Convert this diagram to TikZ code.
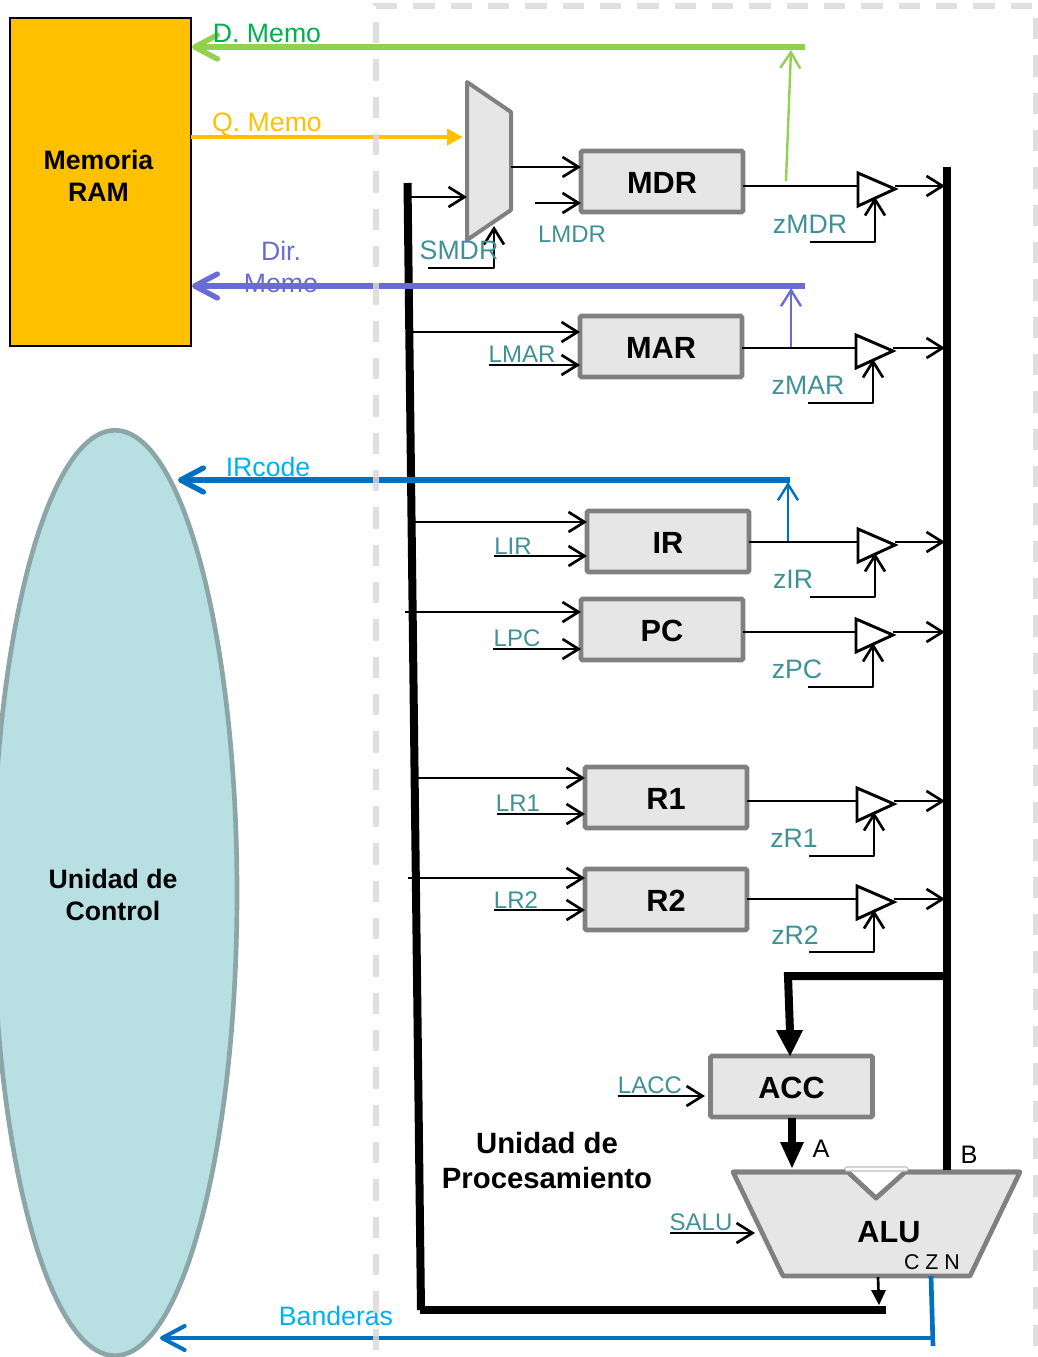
\documentclass[tikz,border=0pt]{standalone}
\usepackage{fontspec}
\setmainfont{Liberation Sans}
\usetikzlibrary{arrows.meta,shapes.geometric}
\definecolor{teal1}{HTML}{3F9198}
\definecolor{frameg}{HTML}{D9D9D9}
\definecolor{regg}{HTML}{808080}
\definecolor{regf}{HTML}{E6E6E6}
\definecolor{grn}{HTML}{92D050}
\definecolor{grnt}{HTML}{00B050}
\definecolor{amber}{HTML}{FFC000}
\definecolor{viol}{HTML}{6B6BD6}
\definecolor{blu}{HTML}{0070C0}
\definecolor{sky}{HTML}{00B0F0}
\definecolor{cuf}{HTML}{B8E0E3}
\definecolor{cud}{HTML}{8CA6A8}
\tikzset{
  x=0.75pt,y=-0.75pt,
  fs/.style={font=\fontsize{#1}{#1}\selectfont},
  reg/.style={draw=regg,fill=regf,line width=3.5pt,rounded corners=1pt,minimum width=121.5pt,minimum height=45.75pt,inner sep=0pt,outer sep=0pt,font=\fontsize{23}{27}\selectfont\bfseries},
  lab/.style={font=\fontsize{20}{24}\selectfont,text=teal1,inner sep=0pt},
  labs/.style={font=\fontsize{18}{22}\selectfont,text=teal1,inner sep=0pt},
  sig/.style={draw=black,line width=2pt,-{Straight Barb[length=12pt,width=15pt,line width=2pt]}},
  sigplain/.style={draw=black,line width=2pt},
  buf/.style={draw=black,fill=white,line width=2.2pt,line join=miter},
  bus/.style={draw=black,line width=6pt},
  thinup/.style={line width=1.8pt,-{Straight Barb[length=12pt,width=15pt,line width=1.8pt]}},
  bigback/.style={line width=4.5pt,-{Straight Barb[length=17pt,width=18pt,line width=4pt,round]}},
  bold/.style={font=\fontsize{20}{24}\selectfont\bfseries,align=center,inner sep=0pt},
}
\begin{document}
\begin{tikzpicture}
\clip (0,0) rectangle (1038,1357);
% memory and control
\node[draw=black,fill=amber,line width=1.5pt,minimum width=135.75pt,minimum height=246pt,inner sep=0pt,outer sep=0pt,bold] (ram) at (100.5,182) {};
\node[bold] (ramt) at (98.5,176) {Memoria\\RAM};
\node[ellipse,draw=cud,fill=cuf,line width=3.5pt,minimum width=183pt,minimum height=694pt,inner sep=0pt,outer sep=0pt] (cu) at (115,893) {};
\node[bold] (cut) at (113,895) {Unidad de\\Control};
% registers
\foreach \n/\t/\cx/\cy in {mdr/MDR/662/181.5,mar/MAR/661/346.5,ir/IR/668/541.5,pc/PC/662/629.5,ra/R1/666/797.5,rb/R2/666/899.5,acc/ACC/791.5/1086.5}
  \node[reg] (\n) at (\cx,\cy) {\raisebox{-9pt}[0pt][0pt]{\t}};
% mux and ALU
\coordinate (m1) at (467,82); \coordinate (m2) at (511,112); \coordinate (m3) at (511,210); \coordinate (m4) at (467,240);
\draw[draw=regg,fill=regf,line width=3pt,line join=round] (m1)--(m2)--(m3)--(m4)--cycle;
\coordinate (a1) at (733,1172); \coordinate (a2) at (1020,1172); \coordinate (a3) at (970,1276); \coordinate (a4) at (783,1276);
\coordinate (n1) at (848,1172); \coordinate (n2) at (876,1198); \coordinate (n3) at (905,1172);
\draw[draw=regg,fill=regf,line width=3.5pt,line join=round] (a1)--(n1)--(n2)--(n3)--(a2)--(a3)--(a4)--cycle;
\fill[white] (n1)--(n2)--(n3)--cycle;
\draw[draw=regg,line width=3.5pt,line join=round] (a1)--(n1)--(n2)--(n3)--(a2);
\draw[draw=regg!50!white,fill=white,line width=.8pt,rounded corners=1pt] (845,1171) -- (845,1167) -- (908,1167) -- (908,1171) -- cycle;
\node[font=\fontsize{23}{27}\selectfont\bfseries,inner sep=0pt] (alu) at (889,1232) {ALU};
\node[font=\fontsize{16}{20}\selectfont,inner sep=0pt] (czn) at (932,1262) {C Z N};
% bus ends
\coordinate (lbt) at (407.5,183); \coordinate (lbb) at (421,1310); \coordinate (lbe) at (886,1310);
\coordinate (rbt) at (947,167); \coordinate (rbb) at (947,1170);
\coordinate (br1) at (947,976); \coordinate (br2) at (788,976);
\draw[bus] (lbt)--(lbb);
\draw[bus] ([xshift=-1pt]lbb)--(lbe);
\draw[bus] (rbt)--(rbb);
\draw[bus] (br1)--(br2)--(790,1032);
\fill (776,1030) -- (803,1030) -- (790,1056) -- cycle;
\coordinate (accb) at (792,1118);
\draw[line width=6pt] (accb)--(792,1145);
\fill (780,1142) -- (804,1142) -- (792,1168) -- cycle;
% input control lines
\foreach \n/\bx/\ya/\cx/\yb/\t/\lx/\ly in {mar/410/332/489/365/LMAR/522/354,ir/413/522/494/556/LIR/513/546,pc/405/612/493/649/LPC/517/638,ra/416/778/497/814/LR1/518/803,rb/408/878/494/910/LR2/516/900}{
  \coordinate (\n busin) at (\bx,\ya);
  \coordinate (\n ctl) at (\cx,\yb);
  \draw[sig] (\n busin) -- (\n.west |- \n busin);
  \draw[sig] (\n ctl) -- (\n.west |- \n ctl);
  \node[labs] (\n lab) at (\lx,\ly) {\t};
}
% output stages
\foreach \n/\y/\tx/\t/\lx/\ly/\ey in {mdr/186/858/zMDR/810/224/242,mar/348/856/zMAR/808/385/403,ir/542/858/zIR/793/579/597,pc/632/856/zPC/797/669/687,ra/801/857/zR1/794/838/856,rb/899/857/zR2/795/935/952}{
  \coordinate (\n t1) at (\tx,\y-13); \coordinate (\n t2) at (\tx,\y+20); \coordinate (\n t3) at (\tx+37,\y+3);
  \coordinate (\n ln) at (\tx,\y);
  \coordinate (\n out) at (\tx+37,\y);
  \coordinate (\n ens) at (\tx-48,\ey);
  \coordinate (\n enc) at (\tx+17,\ey);
  \coordinate (\n ene) at (\tx+17,\y+11);
  \draw[sigplain] (\n.east |- \n ln) -- (\n ln);
  \draw[sig] (\n out) -- (945,\y);
  \draw[sig,line join=round] (\n ens) -- (\n enc) -- (\n ene);
  \draw[buf,fill=none] (\n t1)--(\n t2)--(\n t3)--cycle;
  \node[lab] (\n lab) at (\lx,\ly) {\t};
}
% MDR side
\coordinate (muxin) at (409,197); \coordinate (lmdrs) at (535,203); \coordinate (smdr1) at (428,268); \coordinate (smdr2) at (494,268); \coordinate (smdr3) at (494,226);
\draw[sig] (511,167) -- (mdr.west |- 0,167);
\draw[sig] (lmdrs) -- (mdr.west |- lmdrs);
\draw[sig] (muxin) -- (467,197);
\draw[sig,line join=round] (smdr1) -- (smdr2) -- (smdr3);
\node[lab] (smdrl) at (459,250) {SMDR};
\node[labs] (lmdrl) at (572,234) {LMDR};
% ACC, ALU controls
\coordinate (lacc) at (618,1096); \coordinate (salu) at (670,1233);
\draw[sig] (lacc) -- (705,1096);
\draw[sig] (salu) -- (755,1233);
\node[labs] (laccl) at (650,1085) {LACC};
\node[labs] (salul) at (701,1222) {SALU};
\node[font=\fontsize{19}{22}\selectfont,inner sep=0pt] (la) at (821,1149) {A};
\node[font=\fontsize{19}{22}\selectfont,inner sep=0pt] (lb) at (969,1155) {B};
\coordinate (alub) at (878,1277);
\draw[line width=2pt] (alub)--(878.5,1292);
\fill (871,1290) -- (886,1290) -- (879,1305) -- cycle;
\node[bold,font=\fontsize{22}{26}\selectfont\bfseries] (up) at (547,1160.5) {Unidad de\\Procesamiento};
% coloured buses
\coordinate (de) at (805,47); \coordinate (dw) at (192,47);
\draw[grn,bigback] (de)--(dw);
\draw[grn,thinup] (786,181)--(791,50);
\node[fs=20,text=grnt,inner sep=0pt] (dml) at (267,33) {D. Memo};
\draw[amber,line width=3pt,-{Triangle[length=12pt,width=12pt]}] (ram.east |- 0,137) -- (463,137);
\node[fs=20,text=amber,inner sep=0pt] (qml) at (267,125) {Q. Memo};
\coordinate (ae) at (805,286); \coordinate (aw) at (192,286);
\draw[viol,bigback] (ae)--(aw);
\draw[viol,thinup] (791,347)--(791,288);
\node[fs=20,text=viol,inner sep=0pt] (dl1) at (281,251) {Dir.};
\node[fs=20,text=viol,inner sep=0pt] (dl2) at (281,283) {Memo};
\coordinate (ie) at (790,480); \coordinate (iw) at (178,480);
\draw[blu,bigback] (ie)--(iw);
\draw[blu,thinup] (788,541)--(788,482);
\node[fs=20,text=sky,inner sep=0pt] (irl) at (268,467) {IRcode};
\coordinate (fe) at (933,1338); \coordinate (fw) at (160,1338);
\draw[blu,line width=3pt,-{Straight Barb[length=17pt,width=18pt,line width=3pt,round]}] (fe)--(fw);
\draw[blu,line width=3.5pt] (931,1276)--(933,1346);
\node[fs=20,text=sky,inner sep=0pt] (bl) at (336,1316) {Banderas};
% frame
\draw[frameg,line width=4.2pt,dash pattern=on 16pt off 12pt,opacity=.85] (376,1350) -- (376,6) -- (1036,6) -- (1036,1350);
\end{tikzpicture}
\end{document}
